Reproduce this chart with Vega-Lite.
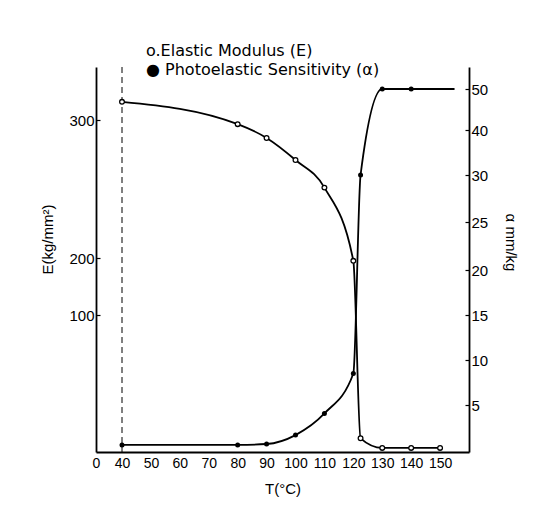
{
  "$schema": "https://vega.github.io/schema/vega-lite/v6.json",
  "width": 373,
  "height": 385,
  "autosize": "none",
  "padding": {"left": 96, "top": 67, "right": 64, "bottom": 68},
  "background": "white",
  "title": {
    "text": ["o.Elastic Modulus (E)", "● Photoelastic Sensitivity (α)"],
    "anchor": "start",
    "frame": "group",
    "align": "left",
    "dx": 50,
    "offset": 0,
    "dy": 11,
    "font": "DejaVu Sans",
    "fontSize": 16,
    "fontWeight": "normal",
    "lineHeight": 19,
    "color": "black"
  },
  "datasets": {
    "E": [
      {"T": 40, "E": 313},
      {"T": 80, "E": 297},
      {"T": 90, "E": 287},
      {"T": 100, "E": 271},
      {"T": 110, "E": 251},
      {"T": 120, "E": 195},
      {"T": 122.5, "E": 10},
      {"T": 130, "E": 3},
      {"T": 140, "E": 3},
      {"T": 150, "E": 3}
    ],
    "alpha": [
      {"T": 40, "alpha": 0.75},
      {"T": 80, "alpha": 0.75},
      {"T": 90, "alpha": 0.85},
      {"T": 100, "alpha": 1.8},
      {"T": 110, "alpha": 4.1},
      {"T": 120, "alpha": 8.5},
      {"T": 122.5, "alpha": 30},
      {"T": 130, "alpha": 50},
      {"T": 140, "alpha": 50},
      {"T": 155, "alpha": 50}
    ],
    "ref": [{"T": 40}]
  },
  "encoding": {
    "x": {
      "field": "T",
      "type": "quantitative",
      "scale": {"domain": [0, 40, 160], "range": [0, 26, 373], "nice": false, "zero": false},
      "axis": {
        "values": [0, 40, 50, 60, 70, 80, 90, 100, 110, 120, 130, 140, 150],
        "title": "T(°C)",
        "ticks": false,
        "grid": false,
        "labelFontSize": 14,
        "labelPadding": 4,
        "labelOverlap": false,
        "labelFlush": false,
        "titleFontSize": 15,
        "titleFontWeight": "normal",
        "titleY": 36,
        "titleBaseline": "middle"
      }
    }
  },
  "layer": [
    {
      "data": {"name": "ref"},
      "mark": {"type": "rule", "strokeDash": [6, 4], "strokeWidth": 1, "color": "black"},
      "encoding": {}
    },
    {
      "data": {"name": "E"},
      "encoding": {
        "y": {
          "field": "E",
          "type": "quantitative",
          "scale": {"domain": [0, 100, 200, 300, 338], "range": [385, 248, 191, 53, 0], "nice": false, "zero": false},
          "axis": {
            "orient": "left",
            "values": [100, 200, 300],
            "title": "E(kg/mm²)",
            "grid": false,
            "tickSize": -4,
            "labelFontSize": 15,
            "labelPadding": 6,
            "titleFontSize": 15,
            "titleFontWeight": "normal",
            "titleAngle": -90,
            "titleX": -49,
            "titleY": 172,
            "titleBaseline": "middle"
          }
        }
      },
      "layer": [
        {"mark": {"type": "line", "interpolate": "monotone", "color": "black", "strokeWidth": 1.8}},
        {"mark": {"type": "point", "shape": "circle", "filled": true, "fill": "white", "stroke": "black", "strokeWidth": 1.3, "size": 22, "opacity": 1}}
      ]
    },
    {
      "data": {"name": "alpha"},
      "encoding": {
        "y": {
          "field": "alpha",
          "type": "quantitative",
          "scale": {"domain": [0, 5, 10, 15, 20, 25, 30, 40, 50, 55], "range": [385, 338, 293, 248, 203, 155, 108, 63, 22, 0], "nice": false, "zero": false},
          "axis": {
            "orient": "right",
            "values": [5, 10, 15, 20, 25, 30, 40, 50],
            "title": "α mm/kg",
            "grid": false,
            "tickSize": -4,
            "labelFontSize": 15,
            "labelPadding": 6,
            "titleFontSize": 15,
            "titleFontWeight": "normal",
            "titleAngle": 90,
            "titleX": 41,
            "titleY": 175,
            "titleBaseline": "middle"
          }
        }
      },
      "layer": [
        {"mark": {"type": "line", "interpolate": "monotone", "color": "black", "strokeWidth": 1.8}},
        {
          "transform": [{"filter": "datum.T <= 150"}],
          "mark": {"type": "point", "shape": "circle", "filled": true, "color": "black", "size": 25, "opacity": 1}
        }
      ]
    }
  ],
  "resolve": {"scale": {"y": "independent"}},
  "config": {
    "font": "Liberation Sans",
    "view": {"stroke": null},
    "axis": {
      "domainColor": "black",
      "domainWidth": 1.8,
      "tickColor": "black",
      "tickWidth": 1.2,
      "labelColor": "black",
      "titleColor": "black"
    }
  }
}
